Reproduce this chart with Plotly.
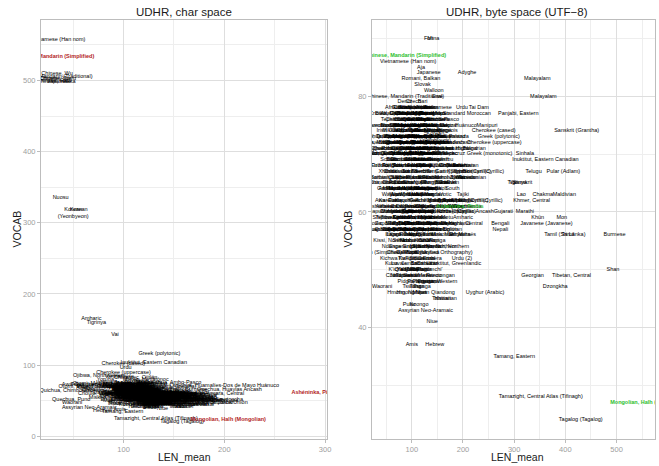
import plotly.graph_objects as go

# UDHR translations: mean line length and vocabulary size, in characters and in UTF-8 bytes
names = [
    "Vietnamese (Han nom)", "Chinese, Mandarin (Traditional)", "Chinese, Wu", "Chinese, Yue", "Chinese, Hakka",
    "Chinese, Jinyu", "Chinese, Gan", "Japanese", "Nuosu", "Korean",
    "Korean<br>(Yeonbyeon)", "Amharic", "Tigrinya", "Vai", "Greek (polytonic)",
    "Cherokee (cased)", "Inuktitut, Eastern Canadian", "Urdu", "Cherokee (uppercase)", "Ojibwa, Northwestern",
    "Awa-Cuaiquer", "Quichua, Chimborazo", "Quechua, Puno", "Waorani", "Assyrian Neo-Aramaic",
    "Hebrew", "Tamang, Eastern", "Niue", "Amis", "Tamazight, Central Atlas (Tifinagh)",
    "Tagalog (Tagalog)", "Quechua, Ambo-Pasco", "Quechua, Huamalíes-Dos de Mayo Huánuco", "Inuktitut, Greenlandic", "Aymara, Central",
    "Quechua, Huaylas Ancash", "Fon", "Mina", "Aja", "Adyghe",
    "Romani, Balkan", "Malayalam", "Malayalam", "Slovak", "Walloon",
    "Ewe", "Dendi", "Czech", "Bari", "Guarani",
    "Tai Dam", "Panjabi, Eastern", "Tamazight, Standard Moroccan", "Manipuri", "Sanskrit (Grantha)",
    "Sinhala", "Telugu", "Pular (Adlam)", "Macedonian", "Bulgarian",
    "Tajiki", "Lao", "Chakma", "Maldivian", "Khmer, Central",
    "Gujarati", "Marathi", "Khün", "Mon", "Bengali",
    "Javanese (Javanese)", "Nepali", "Matsés", "Tamil (Sri Lanka)", "Tamil",
    "Burmese", "Kanuri, Central", "Urdu (2)", "Shan", "Rarotongan",
    "Georgian", "Tibetan, Central", "Dzongkha", "Hmong, Northern Qiandong", "Uyghur (Arabic)",
    "Tahitian", "Hawaiian", "Pular", "Koongo", "Greek (monotonic)",
    "Danish", "Hungarian", "Icelandic", "Faroese", "Vietnamese",
    "Yoruba", "Lithuanian", "Latvian", "Slovenian", "Crioulo, Upper Guinea",
    "Dutch", "Polish", "Igbo", "Romanian", "Estonian",
    "Finnish", "Croatian", "Turkish", "Otomi, Mezquital", "Chinantec, Ojitlán",
    "Mixtec, Metlatónoc", "Nahuatl, Central", "Triqui, Itunyoso", "Otuho", "Maltese",
    "Saami, North", "Lingala", "Twi, Akuapem", "Mixe, Totontepec", "Zapotec, Güilá",
    "Kabyle", "Catalan-Valencian-Balear", "Breton", "Gagauz", "Sidamo",
    "Bambara", "Wolof", "Fulfulde, Nigerian", "Baatonum", "Dagbani",
    "Kabiyè", "Mòoré", "Ga", "Gonja", "Otomi, Estado de México",
    "Mazahua Central", "Purepecha", "Chinantec, Chiltepec", "Huastec, Veracruz", "Occitan",
    "Ladino", "Sardinian", "Venetian", "Friulian", "Ossetian",
    "Kazakh", "Tatar", "Belarusian", "Chuvash", "Oromo, Borana-Arsi-Guji",
    "Chickasaw", "Bashkir", "Kyrgyz", "Bosnian (Cyrillic)", "Serbian (Cyrillic)",
    "Haitian Creole French", "Russian", "Ukrainian", "Yakut", "Komi-Zyrian",
    "Chinantec, Lalana", "Evenki", "Even", "Nanai", "Sanskrit",
    "Udmurt", "Miskito", "Mam, Northern", "Maya, Yucatán", "Malagasy",
    "Makhuwa", "Mende", "Wayuu", "Waray-Waray", "Welsh",
    "Hausa", "Tetun", "Karelian", "Kaqchikel", "Kekchí",
    "Azerbaijani, North (Cyrillic)", "Mongolian, Halh (Cyrillic)", "Asháninka", "Ashéninka, Perené", "Chin, Falam",
    "Candoshi-Shapra", "Nomatsiguenga", "Kinyarwanda", "Mapudungun", "Matsigenka",
    "Yanesha'", "Amarakaeri", "Cashinahua", "Shipibo-Conibo", "Aguaruna",
    "Huitoto, Murui", "Yagua", "Arabela", "Zapotec, Miahuatlán", "Zapotec, Sierra de Juárez",
    "Tzeltal, Oxchuc", "Tzotzil, Chamula", "Chatino, Western Highland", "Achuar-Shiwiar", "Quechua, Ayacucho",
    "Quechua, Cusco", "Quechua, Arequipa-La Unión", "Quechua, North Bolivian", "Rundi", "Nyanja",
    "Swahili", "Lozi", "Bemba", "Kissi, Northern", "Kimbundu",
    "Kituba", "Luba-Kasai", "Shona", "Esperanto", "English",
    "Spanish", "Italian", "Sotho, Northern", "Kurdish, Northern", "Mam (Simplified)",
    "Popti'", "Garifuna", "Tzotzil (Unified Orthography)", "Tiv", "Fijian",
    "Samoan", "Luvale", "Lunda", "Lamnso'", "Latin",
    "Yao", "Yapese", "Bislama", "Tok Pisin", "Malay",
    "Indonesian", "Javanese", "Sundanese", "Pidgin, Nigerian", "Pampangan",
    "Pangasinan", "Frisian, Western", "Tonga", "Tsonga", "Tswana",
    "Hmong Njua", "Maori",
    "Afrikaans", "Albanian, Tosk", "Asturian", "Basque",
    "Bikol, Central", "Bosnian (Latin)", "Buginese", "Cebuano",
    "Chamorro", "Chuukese", "Corsican", "Galician",
    "German, Standard", "Hiligaynon", "Ilocano", "Interlingua",
    "Irish Gaelic", "Kaonde", "Kongo", "Luxembourgeois",
    "Madura", "Marshallese", "Minangkabau", "Mizo",
    "Ndebele", "Norwegian, Bokmål", "Norwegian, Nynorsk", "Nyamwezi",
    "Palauan", "Papiamentu", "Pipil", "Portuguese",
    "Romansch", "Sango", "Scots", "Seselwa Creole French",
    "Somali", "Sotho, Southern", "Swati", "Swedish",
    "Tongan", "Turkmen (Latin)", "Umbundu", "Uzbek (Latin)",
    "Xhosa", "Zulu", "French", "Serbian (Latin)",
    "Sorbian, Upper", "Sorbian, Lower", "Kashubian", "Ladin",
    "Picard", "Limburgish", "Afar", "Tumbuka",
    "Ganda", "Nyankole", "Kikuyu", "Kamba",
    "Luo", "Maasai", "Venda", "Nzema",
    "Fante", "Gen", "Adangme", "Konkomba",
    "Kasem", "Dagaare", "Jula", "Susu",
    "Maninka", "Kpelle", "Loma", "Krio",
    "Temne", "Serer", "Mandinka", "Soninke",
    "Songhay", "Zarma", "Tamajaq", "Dinka",
    "Nuer", "Shilluk", "Lugbara", "Acholi",
    "Lango", "Teso", "Turkana", "Makonde",
    "Sena", "Ndau", "Chopi", "Ronga",
    "Ndonga", "Kwanyama", "Herero",
    "Chokwe", "Sukuma", "Nyakyusa",
    "Kichwa", "Shuar", "Embera",
    "Kuna", "Bribri", "Cabécar",
    "K'iche'", "Q'anjob'al", "Tz'utujiil", "Poqomchi'",
    "Chol", "Tojolabal", "Mazateco",
    "Akateko", "Chuj", "Ixil", "Achi", "Uspanteko", "Mopan",
    "Tepehuan", "Huichol", "Cora", "Yaqui", "Tarahumara", "Seri",
    "Navajo", "Lakota", "Inupiaq", "Yupik", "Cree", "Mohawk",
    "Mikmaq", "Mbya", "Toba", "Wichí", "Mocoví", "Pilagá",
    "Quechua, Huallaga Huánuco", "Quechua, Lambayeque", "Quechua, Chachapoyas", "Quechua, San Martín",
    "Quechua, Napo Lowland", "Quechua, Pastaza",
    "Quechua, Yauyos", "Quechua, Margos-Yarowilca-Lauricocha", "Quechua, North Junín", "Quechua, Eastern Apurímac",
    "Quechua, Corongo Ancash", "Quechua, Sihuas Ancash",
    "Quechua, Huaylla Wanca", "Quechua, Panao Huánuco", "Quechua, Cajatambo North Lima", "Quechua, South Bolivian",
    "Quichua, Highland Imbabura", "Quichua, Salasaca Highland",
    "Quichua, Cañar Highland", "Quichua, Calderón Highland", "Quichua, Loja Highland", "Quichua, Tena Lowland",
    "Tachelhit", "Tarifit",
    "Bulu", "Ewondo", "Duala", "Basaa", "Fang", "Kanembu",
    "Fulfulde, Adamawa", "Fulfulde, Maasina", "Pulaar", "Diola", "Kru", "Gola",
    "Kono", "Yalunka", "Limba", "Sherbro", "Tem", "Gun",
    "Igala", "Ebira", "Idoma", "Efik", "Ibibio", "Urhobo",
    "Isoko", "Edo", "Esan", "Nupe", "Gbagyi", "Bura",
    "Aromanian", "Romani, Vlax", "Saami, Lule", "Saami, Inari", "Saami, Skolt", "Saami, South",
    "Veps", "Võro", "Livvi", "Ludian", "Ingrian", "Votic",
    "Kalmyk", "Buryat", "Tuvan", "Altai", "Khakas", "Nogai",
    "Karachay-Balkar", "Kumyk", "Avar", "Lezgi", "Chechen", "Kabardian",
    "Crimean Tatar", "Karakalpak", "Uyghur (Latin)", "Salar", "Azerbaijani, North (Latin)", "Uzbek (Cyrillic)",
    "Tuvaluan", "Kiribati", "Nauruan", "Pohnpeian", "Kosraean", "Hiri Motu",
    "Tolai", "Rapa Nui", "Marquesan", "Futuna", "Wallisian", "Balinese",
    "Sasak", "Acehnese", "Batak Toba", "Toraja-Sa'dan", "Maranao", "Tausug",
    "Ifugao", "Kankanaey", "Ibanag", "Mari", "Erzya", "Moksha",
]

char_len = [
    34, 31, 34, 32, 33, 35, 30, 36, 37.5, 55.5,
    50, 68, 73, 91.5, 135.5, 99.7, 130, 102, 100, 76,
    56, 43, 48, 49, 66, 79, 99, 138.5, 96, 132,
    158, 149, 200, 172, 200, 205, 118, 122, 108, 110,
    112, 125, 130, 118, 138, 120, 95, 100, 108, 88,
    85, 112, 125, 92, 150, 118, 122, 105, 118, 122,
    108, 112, 90, 138, 125, 106, 118, 120, 140, 100,
    130, 98, 180, 142, 145, 172, 105, 105, 168, 150,
    118, 150, 142, 118, 135, 150, 158, 92, 105, 132,
    148, 118, 104, 122, 96, 82, 110, 118, 104, 82,
    128, 114, 78, 120, 140, 148, 116, 105, 70, 112,
    122, 135, 66, 62, 108, 116, 102, 110, 74, 108,
    118, 130, 128, 110, 160, 96, 104, 112, 120, 80,
    105, 118, 100, 126, 66, 100, 108, 114, 126, 156,
    164, 126, 130, 132, 110, 112, 116, 118, 104, 140,
    72, 108, 114, 120, 124, 168, 124, 120, 108, 114,
    80, 98, 96, 100, 120, 108, 74, 96, 110, 126,
    130, 98, 84, 124, 118, 110, 112, 86, 122, 116,
    130, 112, 160, 170, 114, 142, 150, 150, 176, 140,
    118, 126, 120, 184, 112, 98, 104, 108, 160, 178,
    110, 114, 120, 120, 166, 136, 188, 148, 130, 172,
    134, 128, 162, 112, 128, 130, 176, 136, 106, 86,
    116, 112, 124, 120, 100, 104, 112, 125, 90, 120,
    130, 118, 124, 110, 116, 156, 134, 130, 124, 128,
    132, 130, 126, 114, 124, 170, 122, 128, 126, 154,
    120, 126,
    106, 118, 124, 132, 120, 112, 128, 136, 110, 124, 118, 126,
    140, 130, 134, 122, 138, 142, 128, 134, 120, 126, 136, 114,
    136, 118, 120, 130, 112, 114, 108, 124, 126, 102, 112, 124,
    134, 128, 138, 114, 104, 116, 126, 130, 140, 144, 128, 116,
    112, 114, 106, 110, 100, 110, 120, 130, 136, 146, 118, 126,
    112, 108, 120, 100, 104, 96, 100, 110, 98, 104, 110, 102,
    106, 96, 100, 112, 108, 110, 116, 118, 104, 108, 112, 98,
    96, 100, 106, 118, 120, 124, 112, 130, 134, 130, 138, 132,
    140, 138, 142, 132, 136, 140, 128, 124, 130, 132, 108, 114,
    116, 120, 122, 124, 126, 130, 118,
    88, 102, 116, 130, 144, 96,
    94, 108, 122, 136, 150, 84,
    100, 114, 128, 142, 156, 90,
    86, 100, 114, 128, 142, 156,
    150, 140, 160, 146, 136, 154,
    144, 170, 152, 158, 148, 162,
    156, 160, 174, 152, 138, 146,
    142, 150, 136, 144, 112, 118,
    96, 104, 108, 100, 92, 112,
    110, 118, 124, 106, 98, 102,
    104, 112, 98, 116, 94, 90,
    108, 102, 110, 118, 122, 114,
    112, 96, 104, 100, 118, 108,
    126, 132, 118, 122, 128, 124,
    120, 116, 128, 124, 118, 110,
    104, 110, 100, 106, 112, 118,
    108, 112, 102, 106, 116, 110,
    118, 124, 128, 112, 130, 106,
    132, 138, 128, 134, 126, 140,
    136, 124, 130, 120, 128, 134,
    132, 126, 130, 138, 120, 124,
    140, 146, 136, 104, 110, 108,
]

char_vocab = [
    558, 505, 510, 502, 499, 503, 500, 498, 336, 318,
    314, 165, 160, 143, 116, 102, 103, 96, 90, 84.6,
    73, 64.4, 51, 47, 40, 36.4, 35, 38.8, 37, 25,
    20, 76, 71, 51, 60, 66, 72, 70, 68, 78,
    66, 76, 74, 62, 60, 66, 58, 64, 56, 60,
    70, 74, 55, 62, 70, 68, 72, 66, 66, 66,
    64, 60, 62, 60, 72, 62, 62, 58, 62, 64,
    62, 62, 55, 58, 60, 66, 52, 55, 55, 48,
    42, 55, 52, 46, 44, 45, 42, 46, 44, 56,
    50, 64, 66, 70, 84, 80, 74, 72, 62, 60,
    56, 70, 76, 64, 58, 56, 66, 68, 74, 82,
    80, 66, 72, 68, 64, 70, 58, 62, 70, 76,
    62, 60, 58, 60, 48, 60, 58, 64, 66, 62,
    60, 64, 52, 58, 70, 72, 68, 70, 66, 56,
    52, 58, 60, 54, 66, 68, 64, 70, 68, 52,
    64, 70, 66, 62, 60, 50, 66, 68, 72, 72,
    66, 66, 68, 70, 76, 70, 54, 58, 56, 50,
    52, 56, 60, 52, 56, 58, 50, 56, 58, 56,
    66, 60, 60, 58, 52, 56, 58, 54, 52, 60,
    58, 54, 52, 50, 54, 56, 54, 52, 46, 48,
    54, 56, 52, 54, 50, 54, 48, 52, 50, 46,
    48, 52, 44, 52, 50, 48, 44, 50, 56, 52,
    58, 56, 52, 54, 50, 52, 50, 56, 48, 50,
    48, 48, 46, 50, 52, 42, 44, 42, 44, 48,
    46, 44, 46, 48, 44, 44, 46, 42, 46, 42,
    42, 40,
    62, 66, 60, 58, 56, 64, 52, 54, 62, 56, 62, 60,
    62, 52, 54, 58, 60, 52, 54, 62, 56, 68, 52, 60,
    52, 58, 58, 50, 58, 56, 60, 64, 62, 58, 56, 56,
    52, 54, 52, 62, 60, 66, 54, 60, 56, 54, 64, 64,
    66, 66, 68, 66, 62, 60, 54, 52, 52, 50, 62, 56,
    54, 64, 60, 66, 64, 70, 66, 64, 66, 66, 58, 58,
    62, 64, 62, 54, 60, 58, 56, 58, 62, 60, 64, 68,
    68, 66, 62, 54, 52, 54, 60, 52, 50, 52, 50, 52,
    50, 50, 48, 50, 48, 48, 52, 54, 50, 48, 62, 60,
    56, 56, 54, 54, 52, 50, 60,
    70, 66, 72, 64, 60, 74,
    68, 72, 66, 62, 58, 76,
    74, 68, 64, 60, 56, 72,
    70, 66, 62, 60, 56, 52,
    62, 58, 56, 60, 64, 54,
    56, 52, 58, 54, 60, 56,
    52, 54, 50, 56, 60, 58,
    60, 58, 62, 56, 64, 66,
    64, 66, 62, 68, 70, 60,
    62, 60, 64, 58, 66, 62,
    58, 60, 62, 56, 66, 72,
    66, 64, 60, 62, 58, 68,
    64, 68, 62, 60, 58, 62,
    62, 58, 66, 64, 68, 60,
    60, 64, 58, 56, 62, 66,
    70, 68, 72, 66, 64, 62,
    68, 66, 74, 70, 64, 72,
    62, 64, 56, 60, 62, 70,
    48, 46, 50, 52, 54, 46,
    50, 52, 48, 54, 50, 52,
    50, 54, 52, 56, 52, 50,
    48, 46, 50, 68, 66, 70,
]

byte_len = [
    93, 88, 98, 96, 94, 100, 90, 133, 112, 140,
    146, 200, 306, 298, 270, 260, 361, 198, 261, 160,
    62, 48, 50, 42, 127, 145, 300, 140, 100, 352,
    430, 137, 120, 185, 200, 197, 133, 142, 118, 208,
    118, 345, 357, 121, 143, 150, 86, 103, 121, 80,
    231, 308, 180, 247, 422, 321, 338, 396, 216, 222,
    200, 314, 356, 398, 334, 279, 321, 346, 393, 273,
    363, 273, 208, 399, 405, 496, 110, 198, 493, 156,
    336, 412, 380, 118, 243, 158, 166, 95, 114, 252,
    95, 130, 110, 140, 150, 120, 105, 135, 115, 70,
    95, 128, 112, 140, 112, 125, 100, 118, 78, 108,
    130, 150, 100, 75, 110, 128, 100, 140, 42, 80,
    100, 120, 150, 110, 70, 98, 115, 130, 150, 80,
    105, 125, 95, 140, 70, 100, 120, 140, 160, 75,
    95, 120, 140, 110, 200, 190, 180, 205, 175, 80,
    70, 200, 185, 240, 215, 70, 210, 200, 190, 175,
    60, 170, 180, 160, 316, 170, 60, 90, 110, 128,
    120, 100, 58, 90, 115, 105, 130, 55, 90, 110,
    214, 190, 40, 75, 135, 100, 115, 205, 45, 80,
    100, 120, 110, 60, 85, 105, 125, 140, 52, 90,
    110, 130, 150, 38, 75, 100, 120, 140, 90, 110,
    130, 105, 125, 60, 100, 120, 110, 130, 80, 100,
    120, 110, 150, 170, 40, 100, 90, 150, 80, 100,
    125, 75, 95, 120, 140, 80, 95, 120, 110, 100,
    90, 80, 110, 110, 120, 130, 150, 110, 120, 100,
    100, 115,
    70, 110, 128, 92, 60, 108, 120, 88, 72, 95, 130, 145,
    55, 92, 118, 140, 58, 88, 120, 150, 62, 92, 135, 105,
    55, 90, 118, 140, 60, 110, 130, 150, 45, 85, 110, 128,
    55, 88, 125, 152, 60, 100, 122, 140, 50, 90, 115, 140,
    55, 95, 118, 140, 70, 100, 125, 145, 48, 78, 120, 140,
    70, 95, 140, 125, 68, 105, 130, 150, 55, 90, 112, 130,
    60, 95, 130, 150, 45, 75, 115, 150, 70, 100, 130, 170,
    55, 90, 115, 150, 65, 95, 140, 160, 75, 90, 140, 150,
    60, 130, 140, 70, 110, 130, 55, 110, 140, 60, 110, 130,
    70, 90, 115, 135, 60, 90, 135,
    58, 81, 97, 116, 139, 157,
    63, 84, 101, 121, 144, 161,
    56, 73, 96, 113, 134, 152,
    61, 79, 104, 119, 141, 163,
    66, 86, 107, 124, 146, 167,
    57, 77, 99, 117, 137, 156,
    64, 83, 103, 121, 143, 160,
    54, 76, 94, 114, 136, 153,
    62, 78, 101, 118, 142, 158,
    66, 84, 106, 127, 144, 164,
    59, 77, 97, 119, 139, 156,
    63, 81, 103, 121, 141, 163,
    56, 74, 96, 116, 134, 157,
    61, 82, 99, 122, 139, 161,
    67, 86, 104, 126, 146, 166,
    150, 166, 174, 186, 194, 206,
    161, 171, 179, 191, 201, 176,
    71, 91, 109, 131, 149, 189,
    61, 79, 101, 119, 141, 159,
    66, 84, 106, 124, 146, 164,
    59, 77, 99, 117, 137, 157,
    63, 83, 101, 174, 186, 196,
]

byte_vocab = [
    86, 80, 77, 78, 77, 76, 75, 84, 71, 74,
    73, 59, 65, 65, 73, 74, 69, 78, 72, 68,
    62, 65, 57, 47, 43, 37, 35, 41, 37, 28,
    24, 76, 75, 51, 58, 60, 90, 90, 85, 84,
    83, 83, 80, 82, 81, 80, 79, 79, 79, 78,
    78, 77, 77, 75, 74, 70, 67, 67, 66, 71,
    63, 63, 63, 63, 62, 60, 60, 59, 59, 58,
    58, 57, 56, 56, 56, 56, 52, 52, 50, 49,
    49, 49, 47, 46, 46, 45, 45, 44, 44, 70,
    74, 72, 69, 66, 78, 78, 78, 78, 78, 77,
    77, 77, 77, 77, 76, 76, 76, 76, 75, 75,
    75, 75, 75, 74, 74, 74, 74, 74, 73, 73,
    73, 73, 73, 73, 72, 72, 72, 72, 72, 71,
    71, 71, 71, 71, 70, 70, 70, 70, 70, 69,
    69, 69, 69, 69, 68, 68, 68, 68, 68, 68,
    67, 67, 67, 67, 67, 66, 66, 66, 66, 66,
    65, 65, 65, 65, 65, 65, 64, 64, 64, 64,
    64, 64, 63, 63, 63, 63, 63, 62, 62, 62,
    62, 62, 61, 61, 61, 61, 61, 61, 60, 60,
    60, 60, 60, 59, 59, 59, 59, 59, 58, 58,
    58, 58, 58, 57, 57, 57, 57, 57, 56, 56,
    56, 56, 56, 55, 55, 55, 55, 55, 54, 54,
    54, 54, 54, 54, 53, 53, 53, 53, 52, 52,
    52, 51, 51, 51, 51, 50, 50, 50, 50, 50,
    49, 49, 49, 48, 48, 48, 48, 47, 47, 47,
    46, 46,
    78, 78, 78, 78, 77, 77, 77, 77, 76, 76, 76, 76,
    75, 75, 75, 75, 74, 74, 74, 74, 73, 73, 73, 73,
    72, 72, 72, 72, 71, 71, 71, 71, 70, 70, 70, 70,
    69, 69, 69, 69, 68, 68, 68, 68, 67, 67, 67, 67,
    66, 66, 66, 66, 65, 65, 65, 65, 64, 64, 64, 64,
    63, 63, 63, 63, 62, 62, 62, 62, 61, 61, 61, 61,
    60, 60, 60, 60, 59, 59, 59, 59, 58, 58, 58, 58,
    57, 57, 57, 57, 56, 56, 56, 56, 55, 55, 55, 55,
    54, 54, 54, 53, 53, 53, 52, 52, 52, 51, 51, 51,
    50, 50, 50, 50, 49, 49, 49,
    77, 77, 77, 77, 77, 77,
    76, 76, 76, 76, 76, 76,
    75, 75, 75, 75, 75, 75,
    74, 74, 74, 74, 74, 74,
    73, 73, 73, 73, 73, 73,
    72, 72, 72, 72, 72, 72,
    71, 71, 71, 71, 71, 71,
    70, 70, 70, 70, 70, 70,
    69, 69, 69, 69, 69, 69,
    68, 68, 68, 68, 68, 68,
    67, 67, 67, 67, 67, 67,
    66, 66, 66, 66, 66, 66,
    65, 65, 65, 65, 65, 65,
    64, 64, 64, 64, 64, 64,
    63, 63, 63, 63, 63, 63,
    62, 62, 62, 62, 62, 62,
    61, 61, 61, 61, 61, 61,
    60, 60, 60, 60, 60, 60,
    59, 59, 59, 59, 59, 59,
    58, 58, 58, 58, 58, 58,
    57, 57, 57, 57, 57, 57,
    56, 56, 56, 56, 56, 56,
]

# Highlighted translations
hl_names = ["Chinese, Mandarin (Simplified)", "Ashéninka, Pichis", "Mongolian, Halh (Mongolian)"]
hl_char_len = [31, 290, 204]
hl_char_vocab = [534, 61, 24]
hl_byte_len = [88.5, 194, 561]
hl_byte_vocab = [87, 61, 27]

assert len(names) == len(char_len) == len(char_vocab) == len(byte_len) == len(byte_vocab)

W, H = 659, 466
FONT = "Liberation Sans, Arial, sans-serif"
label_font = dict(family=FONT, size=5.5, color="#000000")

fig = go.Figure()
fig.add_trace(go.Scatter(x=char_len, y=char_vocab, text=names, mode="text",
                         textposition="middle center", textfont=label_font,
                         xaxis="x", yaxis="y", hoverinfo="text"))
fig.add_trace(go.Scatter(x=hl_char_len, y=hl_char_vocab, text=hl_names, mode="text",
                         textposition="middle center",
                         textfont=dict(family=FONT, size=5.5, color="#B22222", weight="bold"),
                         xaxis="x", yaxis="y", hoverinfo="text"))
fig.add_trace(go.Scatter(x=byte_len, y=byte_vocab, text=names, mode="text",
                         textposition="middle center", textfont=label_font,
                         xaxis="x2", yaxis="y2", hoverinfo="text"))
fig.add_trace(go.Scatter(x=hl_byte_len, y=hl_byte_vocab, text=hl_names, mode="text",
                         textposition="middle center",
                         textfont=dict(family=FONT, size=5.5, color="#2EBE2E", weight="bold"),
                         xaxis="x2", yaxis="y2", hoverinfo="text"))

def px_x(p):
    return p / W

def px_y(p):
    return 1 - p / H

axis_style = dict(
    showline=True, mirror=True, linecolor="#BDBDBD", linewidth=1,
    ticks="outside", ticklen=3, tickcolor="#BDBDBD", tickwidth=1,
    tickfont=dict(family=FONT, size=7.5, color="#9E9E9E"),
    showgrid=True, gridcolor="#DEDEDE", gridwidth=1,
    zeroline=False,
)

ydom = [px_y(440.5), px_y(20)]

fig.update_layout(
    width=W, height=H,
    margin=dict(l=0, r=0, t=0, b=0),
    paper_bgcolor="white", plot_bgcolor="white",
    showlegend=False,
    xaxis=dict(domain=[px_x(41.3), px_x(329)], range=[18.1, 301.9], tick0=0, dtick=100,
               minor=dict(dtick=50, showgrid=True, gridcolor="#EEEEEE", gridwidth=0.7),
               anchor="y", **axis_style),
    yaxis=dict(domain=ydom, range=[-3.2, 585], tick0=0, dtick=100,
               minor=dict(dtick=50, showgrid=True, gridcolor="#EEEEEE", gridwidth=0.7),
               anchor="x", **axis_style),
    xaxis2=dict(domain=[px_x(374.3), 1], range=[22.3, 575.1], tick0=0, dtick=100,
                minor=dict(dtick=50, showgrid=True, gridcolor="#EEEEEE", gridwidth=0.7),
                anchor="y2", **axis_style),
    yaxis2=dict(domain=ydom, range=[20.8, 93.2], tick0=0, dtick=20,
                minor=dict(dtick=10, showgrid=True, gridcolor="#EEEEEE", gridwidth=0.7),
                anchor="x2", **axis_style),
)

title_font = dict(family=FONT, size=11.5, color="#1a1a1a")
axis_title_font = dict(family=FONT, size=10.5, color="#1a1a1a")
annotations = [
    dict(text="UDHR, char space", x=px_x(185.2), y=px_y(12), font=title_font),
    dict(text="UDHR, byte space (UTF−8)", x=px_x(520.5), y=px_y(12), font=title_font),
    dict(text="LEN_mean", x=px_x(185.2), y=px_y(459), font=axis_title_font),
    dict(text="LEN_mean", x=px_x(520.5), y=px_y(459), font=axis_title_font),
    dict(text="VOCAB", x=px_x(17.5), y=px_y(230), font=axis_title_font, textangle=-90),
    dict(text="VOCAB", x=px_x(350.5), y=px_y(230), font=axis_title_font, textangle=-90),
]
for a in annotations:
    fig.add_annotation(xref="paper", yref="paper", showarrow=False,
                       xanchor="center", yanchor="middle", **a)

fig.write_html("out.html")
